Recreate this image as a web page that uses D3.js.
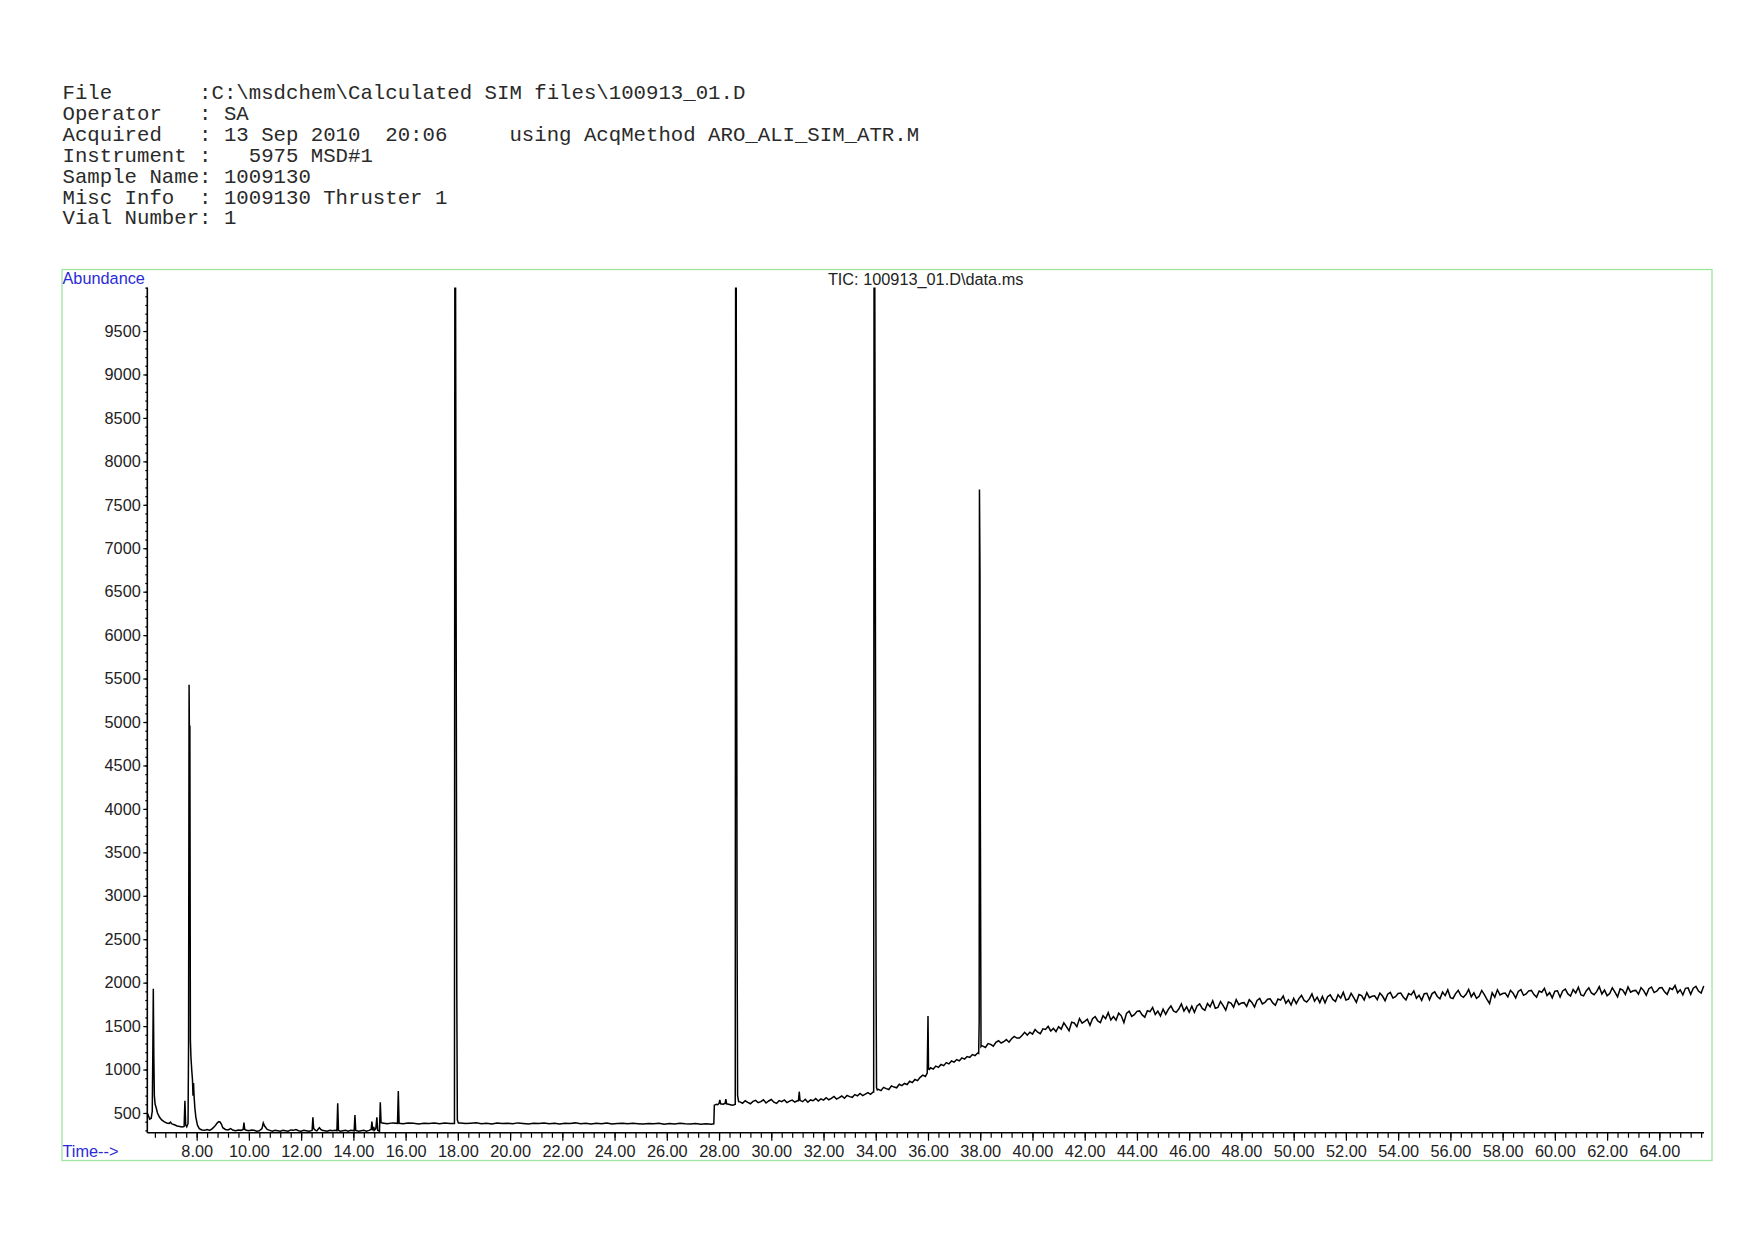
<!DOCTYPE html>
<html><head><meta charset="utf-8">
<script src="https://cdn.jsdelivr.net/npm/d3@7"></script>
<style>body{margin:0;background:#fff} svg{display:block}</style>
</head><body>
<svg id="chart" width="1754" height="1240"></svg>
<script>
// ---------------- DATA ----------------
const headerLines = [
  "File       :C:\\msdchem\\Calculated SIM files\\100913_01.D",
  "Operator   : SA",
  "Acquired   : 13 Sep 2010  20:06     using AcqMethod ARO_ALI_SIM_ATR.M",
  "Instrument :   5975 MSD#1",
  "Sample Name: 1009130",
  "Misc Info  : 1009130 Thruster 1",
  "Vial Number: 1"
];
const chartTitle = "TIC: 100913_01.D\\data.ms";
const yAxisTitle = "Abundance";
const xAxisTitle = "Time-->";

const yTickValues = [500,1000,1500,2000,2500,3000,3500,4000,4500,5000,5500,6000,6500,7000,7500,8000,8500,9000,9500];
const xTickValues = [8,10,12,14,16,18,20,22,24,26,28,30,32,34,36,38,40,42,44,46,48,50,52,54,56,58,60,62,64];

// early part of trace (time min, abundance)
const earlyTrace = [
 [6.11,500],[6.15,470],[6.2,430],[6.26,440],[6.3,520],[6.32,1150],[6.34,1930],[6.36,1150],[6.38,700],
 [6.41,600],[6.45,560],[6.5,500],[6.58,450],[6.66,420],[6.75,400],[6.85,385],[6.95,380],[7.0,395],
 [7.05,375],[7.15,365],[7.25,350],[7.35,345],[7.45,340],[7.52,345],[7.55,640],[7.58,360],[7.62,340],
 [7.67,380],[7.69,1300],[7.71,5430],[7.72,4950],[7.74,4950],[7.76,1340],[7.78,1150],[7.81,1000],
 [7.84,880],[7.86,700],[7.88,845],[7.9,700],[7.93,560],[7.97,450],[8.03,360],[8.1,320],[8.2,305],
 [8.3,300],[8.4,310],[8.5,300],[8.6,320],[8.7,350],[8.8,390],[8.85,400],[8.9,395],[8.95,370],
 [9.0,330],[9.1,310],[9.2,305],[9.3,320],[9.4,300],[9.5,295],[9.6,305],[9.7,300],[9.78,310],
 [9.81,390],[9.84,310],[9.9,300],[10.0,295],[10.1,305],[10.2,300],[10.3,290],[10.4,295],[10.5,320],
 [10.55,385],[10.6,350],[10.7,310],[10.8,300],[10.9,290],[11.0,300],[11.1,295],[11.2,290],[11.3,300],
 [11.4,295],[11.5,290],[11.6,305],[11.7,300],[11.8,310],[11.9,295],[12.0,290],[12.1,300],[12.2,295],
 [12.3,290],[12.42,300],[12.45,450],[12.48,320],[12.55,300],[12.6,295],[12.7,330],[12.75,310],
 [12.8,300],[12.9,295],[13.0,290],[13.1,300],[13.2,295],[13.3,300],[13.37,295],[13.4,612],[13.43,300],
 [13.5,290],[13.6,295],[13.7,300],[13.8,290],[13.9,300],[14.03,295],[14.06,477],[14.09,300],[14.2,290],
 [14.3,295],[14.4,300],[14.5,290],[14.6,300],[14.68,310],[14.71,400],[14.74,300],[14.78,340],[14.8,300],
 [14.86,320],[14.9,450],[14.93,300],[15.0,290],[15.03,623],[15.06,390]
];

// quiet baseline 15.1 - 27.7 (every 0.2 min)
const baseB = {start: 15.1, step: 0.2, values: [
 384,376,386,380,375,385,381,374,383,379,
 385,376,384,380,377,386,378,382,387,376,
 381,374,384,378,383,375,386,380,373,382,
 378,385,376,381,374,383,378,386,375,381,
 374,381,376,384,372,380,383,375,381,377,
 373,380,375,383,371,379,374,382,376,372,
 379,371,377,370
]};

// step up at 27.8 min
const stepTrace = [
 [27.8,375],[27.82,590],[27.9,600],[27.95,595],[28.0,610],[28.03,650],[28.06,605],[28.15,600],
 [28.23,610],[28.26,660],[28.29,605],[28.4,598],[28.5,590],[28.58,595]
];

// baseline 28.8 - 33.9 (every 0.1 min)
const baseD = {start: 28.8, step: 0.1, values: [
 628,612,640,621,606,633,645,618,630,652,
 615,638,655,624,610,642,631,650,620,636,
 648,626,640,645,630,658,624,650,641,666,
 638,662,648,675,652,668,690,660,677,695,
 670,702,688,680,712,697,725,700,718,735,
 715,742
]};

// baseline 34.1 - 37.9 (every 0.1 min)
const baseE = {start: 34.1, step: 0.1, values: [
 772,758,795,780,770,812,798,790,830,815,
 840,828,865,850,885,872,910,935,920,990,
 1020,1005,1040,1025,1058,1045,1080,1065,1098,1085,
 1115,1100,1135,1120,1150,1140,1172,1160,1190
]};

// noisy rising baseline 38.1 - 65.7 (every 0.1 min)
const baseTail = {start: 38.1, step: 0.1, values: [
 1270,1254,1299,1290,1269,1314,1331,1305,1320,1345,
 1315,1354,1381,1362,1362,1391,1428,1396,1429,1407,
 1460,1430,1413,1468,1462,1498,1444,1474,1437,1494,
 1465,1537,1494,1447,1544,1536,1493,1586,1533,1555,
 1580,1510,1585,1610,1560,1540,1620,1585,1655,1570,
 1610,1569,1649,1618,1540,1647,1672,1611,1631,1670,
 1675,1629,1603,1677,1666,1714,1633,1672,1616,1695,
 1635,1693,1732,1675,1658,1697,1755,1673,1722,1660,
 1730,1658,1732,1755,1703,1682,1760,1723,1792,1705,
 1715,1783,1736,1683,1776,1764,1717,1804,1747,1765,
 1770,1727,1804,1772,1719,1796,1818,1756,1773,1810,
 1815,1767,1739,1812,1799,1846,1763,1801,1743,1820,
 1760,1817,1853,1795,1777,1813,1870,1787,1833,1770,
 1840,1767,1838,1860,1807,1783,1860,1822,1888,1800,
 1811,1877,1828,1774,1864,1850,1801,1886,1827,1843,
 1849,1805,1880,1846,1792,1867,1888,1824,1839,1875,
 1881,1832,1802,1874,1859,1904,1820,1855,1796,1872,
 1877,1803,1874,1895,1841,1815,1891,1851,1917,1828,
 1818,1874,1910,1851,1831,1866,1922,1838,1883,1819,
 1844,1910,1861,1807,1760,1883,1833,1918,1859,1875,
 1880,1836,1912,1878,1824,1899,1919,1854,1870,1906,
 1911,1862,1833,1904,1890,1935,1851,1885,1825,1902,
 1907,1833,1904,1925,1870,1846,1922,1881,1947,1858,
 1848,1904,1940,1881,1861,1896,1954,1869,1914,1850,
 1875,1941,1892,1837,1928,1914,1864,1950,1891,1906,
 1911,1867,1943,1909,1855,1930,1950,1886,1902,1938,
 1943,1894,1865,1937,1922,1967,1883,1918,1858,1935,
 1940,1866,1937,1958,1904,1880,1962
]};

// narrow peaks (time, abundance); values above 10000 run off the top
const peaks = [
 [[15.69,381],[15.72,753],[15.75,382]],
 [[17.87,380],[17.89,14000],[17.96,1850],[17.98,420],[18.02,385]],
 [[28.62,600],[28.64,14000],[28.69,2690],[28.71,700],[28.75,630]],
 [[31.04,640],[31.07,745],[31.1,645]],
 [[33.92,742],[33.94,14000],[34.01,2110],[34.03,790],[34.06,765]],
 [[35.97,960],[36.0,1617],[36.02,1005],[36.05,1000]],
 [[37.94,1185],[37.96,1570],[37.97,7677],[37.99,6750],[38.0,4366],[38.03,1264],[38.06,1275]]
];

// ---------------- BUILD TRACE ----------------
function expand(seg){ return seg.values.map((v,i)=>[+(seg.start+i*seg.step).toFixed(3), v]); }
const windows = peaks.map(p=>[p[0][0], p[p.length-1][0]]);
const inPeak = t => windows.some(w => t >= w[0] && t <= w[1]);
let trace = [].concat(earlyTrace, stepTrace,
   [baseB, baseD, baseE, baseTail].flatMap(expand).filter(d=>!inPeak(d[0])),
   ...peaks);
trace.sort((a,b)=>a[0]-b[0]);

// ---------------- DRAW ----------------
const svg = d3.select("#chart");
const x = d3.scaleLinear().domain([6.11, 65.71]).range([147.3, 1704]);
const y = d3.scaleLinear().domain([273, 10000]).range([1132.7, 287.6]);

// frame
svg.append("rect").attr("x",62).attr("y",269.5).attr("width",1650).attr("height",891)
  .attr("fill","none").attr("stroke","#9fe49f").attr("stroke-width",1.3);

// header
svg.append("g").selectAll("text").data(headerLines).join("text")
  .attr("x",62.5).attr("y",(d,i)=>99+i*20.9)
  .attr("xml:space","preserve").style("white-space","pre")
  .style("font-family","'Courier New','Liberation Mono',monospace").style("font-size","20.7px")
  .attr("fill","#2a2a2a").text(d=>d);

const sans = "Arial, 'Liberation Sans', sans-serif";
svg.append("text").attr("x",62.5).attr("y",284).style("font-family",sans).style("font-size","16.3px")
  .attr("fill","#2b2bd6").text(yAxisTitle);
svg.append("text").attr("x",62.5).attr("y",1157).style("font-family",sans).style("font-size","16.3px")
  .attr("fill","#2b2bd6").text(xAxisTitle);
svg.append("text").attr("x",(x.range()[0]+x.range()[1])/2).attr("y",285).attr("text-anchor","middle")
  .style("font-family",sans).style("font-size","16.3px").attr("fill","#222").text(chartTitle);

// y axis
const yMinor = d3.range(300, 10001, 100);
const gyMinor = svg.append("g").attr("transform",`translate(${x.range()[0]},0)`)
  .call(d3.axisLeft(y).tickValues(yMinor).tickSize(2).tickFormat(""));
const gy = svg.append("g").attr("transform",`translate(${x.range()[0]},0)`)
  .call(d3.axisLeft(y).tickValues(yTickValues).tickSize(4).tickPadding(2.5).tickFormat(d3.format("d")));
gy.selectAll("text").style("font-family",sans).style("font-size","16.3px").attr("fill","#222");
[gy, gyMinor].forEach(g=>{ g.select(".domain").remove(); g.selectAll("line").attr("stroke","#000").attr("stroke-width",1.2); });
svg.append("line").attr("x1",x.range()[0]).attr("x2",x.range()[0]).attr("y1",y.range()[1]).attr("y2",y.range()[0])
  .attr("stroke","#000").attr("stroke-width",1.6);

// x axis
const xMinor = d3.range(6.4, 65.65, 0.4);
const gxMinor = svg.append("g").attr("transform",`translate(0,${y.range()[0]})`)
  .call(d3.axisBottom(x).tickValues(xMinor).tickSize(5).tickFormat(""));
const gx = svg.append("g").attr("transform",`translate(0,${y.range()[0]})`)
  .call(d3.axisBottom(x).tickValues(xTickValues).tickSize(8).tickPadding(5).tickFormat(d3.format(".2f")));
gx.selectAll("text").style("font-family",sans).style("font-size","16.3px").attr("fill","#222");
[gx, gxMinor].forEach(g=>{ g.select(".domain").remove(); g.selectAll("line").attr("stroke","#000").attr("stroke-width",1.2); });
svg.append("line").attr("x1",x.range()[0]).attr("x2",x.range()[1]).attr("y1",y.range()[0]).attr("y2",y.range()[0])
  .attr("stroke","#000").attr("stroke-width",1.6);

// clip + trace
svg.append("clipPath").attr("id","plotclip").append("rect")
  .attr("x",x.range()[0]).attr("y",y.range()[1]).attr("width",x.range()[1]-x.range()[0]+2)
  .attr("height",y.range()[0]-y.range()[1]);
svg.append("path").datum(trace).attr("clip-path","url(#plotclip)")
  .attr("fill","none").attr("stroke","#000").attr("stroke-width",1.5).attr("stroke-linejoin","miter")
  .attr("d", d3.line().x(d=>x(d[0])).y(d=>y(d[1])));
</script>
</body></html>
